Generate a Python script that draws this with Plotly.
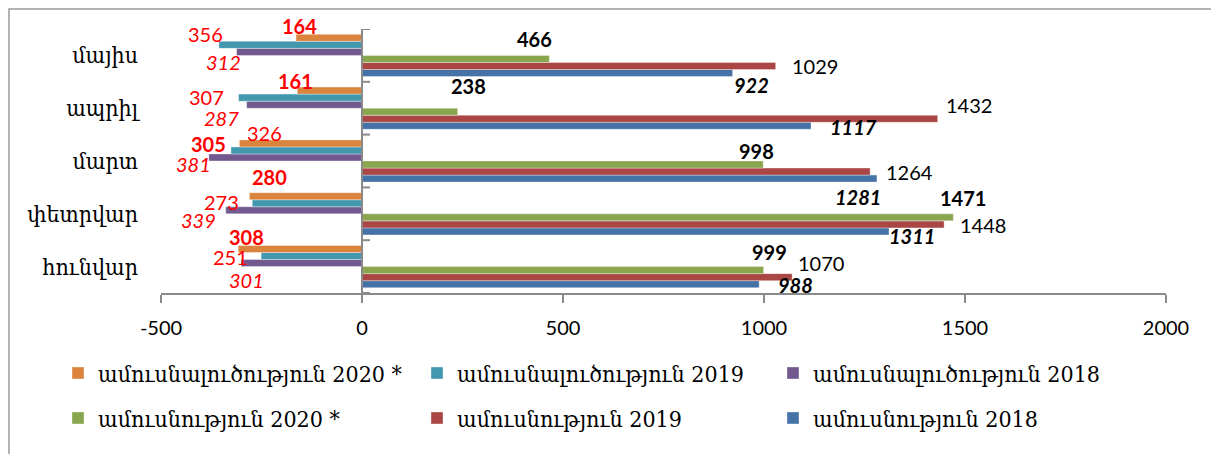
import plotly.graph_objects as go

# ---------------- data ----------------
categories = ["հունվար", "փետրվար", "մարտ", "ապրիլ", "մայիս"]

marriage_2018 = [988, 1311, 1281, 1117, 922]
marriage_2019 = [1070, 1448, 1264, 1432, 1029]
marriage_2020 = [999, 1471, 998, 238, 466]
divorce_2018 = [301, 339, 381, 287, 312]
divorce_2019 = [251, 273, 326, 307, 356]
divorce_2020 = [308, 280, 305, 161, 164]

x_ticks = [-500, 0, 500, 1000, 1500, 2000]

# ---------------- styles ----------------
NUM_FONT = "Lato, 'Open Sans', sans-serif"
ARM_FONT = "'DejaVu Serif Condensed', 'DejaVu Serif', serif"
AXIS_GRAY = "#8a8a8a"

# the page body adds an 8px margin; lay the figure out in page pixels minus that
PAGE_OFF = 8

# series in drawing order (bottom bar of each group first)
series = [
    dict(name="ամուսնություն 2018", vals=marriage_2018, sign=1, color="#4572A7",
         leg=(793, 418), fmt="<b><i>{}</i></b>", fcolor="black",
         offs=[(36, 0.5), (23, 5), (-19, 18.5), (42, 1.5), (19, 11.5)]),
    dict(name="ամուսնություն 2019", vals=marriage_2019, sign=1, color="#AA4643",
         leg=(437, 418), fmt="{}", fcolor="black",
         offs=[(29, -14.5), (39, 1), (39, 0.5), (31, -13.5), (39, 0.5)]),
    dict(name="ամուսնություն 2020 *", vals=marriage_2020, sign=1, color="#89A54E",
         leg=(78, 418), fmt="<b>{}</b>", fcolor="black",
         offs=[(6, -18.5), (10, -19), (-7, -13.5), (11, -25.5), (-15, -19.5)]),
    dict(name="ամուսնալուծություն 2018", vals=divorce_2018, sign=-1, color="#71588F",
         leg=(793, 373), fmt="<i>{}</i>", fcolor="#FF0000",
         offs=[(5, 16.5), (-27, 10), (-15, 6.5), (-25, 13), (-13, 10.5)]),
    dict(name="ամուսնալուծություն 2019", vals=divorce_2019, sign=-1, color="#4198AF",
         leg=(437, 373), fmt="{}", fcolor="#FF0000",
         offs=[(-31, 0.5), (-31, -1), (34, -17.5), (-32, -1), (-13, -10.5)]),
    dict(name="ամուսնալուծություն 2020 *", vals=divorce_2020, sign=-1, color="#DB843D",
         leg=(78, 373), fmt="<b>{}</b>", fcolor="#FF0000",
         offs=[(8, -12.5), (20, -19), (-31, 0.5), (-2, -9.5), (3, -11.5)]),
]

W, H = 1219 - 2 * PAGE_OFF, 462 - 2 * PAGE_OFF
# plot area in page pixels: x 161..1166, y 29..293
M_L = 161 - PAGE_OFF
M_R = W - (1166 - PAGE_OFF)
M_T = 29 - PAGE_OFF
M_B = H - (293 - PAGE_OFF)
plot_h = H - M_T - M_B
pw = W - M_L - M_R
band = plot_h / len(categories)
BARGAP = 0.2
group_w = band * (1 - BARGAP)
bar_w = group_w / len(series)

fig = go.Figure()
annotations = []
legends = {}
for k, s in enumerate(series):
    leg_id = "legend" if k == 0 else f"legend{k + 1}"
    xs = [s["sign"] * v for v in s["vals"]]
    fig.add_trace(go.Bar(
        y=categories, x=xs, orientation="h", name=s["name"],
        marker=dict(color=s["color"], line=dict(color="rgba(255,255,255,0.6)", width=0.6)),
        legend=leg_id, hoverinfo="x+y+name",
    ))
    lx, ly = s["leg"]
    legends[leg_id] = dict(
        orientation="h", xref="container", yref="container",
        xanchor="left", yanchor="middle",
        x=(lx - 20 - PAGE_OFF) / W, y=1 - (ly - PAGE_OFF) / H,
        font=dict(family=ARM_FONT, size=23, color="black"), bgcolor="rgba(0,0,0,0)",
        itemclick=False, itemdoubleclick=False, borderwidth=0,
    )
    # pixel offset of this bar's centre below the band centre
    bar_down = group_w / 2 - bar_w * (k + 0.5)
    for cat, xv, v, (dx, dy) in zip(categories, xs, s["vals"], s["offs"]):
        annotations.append(dict(
            x=xv, y=cat, xref="x", yref="y", text=s["fmt"].format(v),
            showarrow=False, xshift=dx, yshift=-(bar_down + dy),
            font=dict(family=NUM_FONT, size=20, color=s["fcolor"]),
            xanchor="center", yanchor="middle",
        ))

shapes = [
    # vertical axis line at x = 0
    dict(type="line", xref="x", yref="paper", x0=0, x1=0, y0=0, y1=1,
         line=dict(color=AXIS_GRAY, width=2), layer="above"),
]
for b in range(len(categories) + 1):
    shapes.append(dict(type="line", xref="x", yref="y", xsizemode="pixel", xanchor=0,
                       x0=0, x1=8, y0=b - 0.5, y1=b - 0.5,
                       line=dict(color=AXIS_GRAY, width=2)))
# outer chart border (left / top edges visible in the reference)
shapes.append(dict(type="rect", xref="paper", yref="paper",
                   x0=(1 - M_L) / pw, x1=(W + 5 - M_L) / pw,
                   y0=-(H + 5 - plot_h - M_T) / plot_h, y1=(plot_h + M_T - 1) / plot_h,
                   line=dict(color="#9a9a9a", width=1.5), fillcolor="rgba(0,0,0,0)",
                   layer="below"))

fig.update_layout(
    width=W, height=H,
    margin=dict(l=M_L, r=M_R, t=M_T, b=M_B, autoexpand=False),
    paper_bgcolor="white", plot_bgcolor="white",
    barmode="group", bargap=BARGAP, bargroupgap=0,
    xaxis=dict(range=[-500, 2000], autorange=False,
               tickvals=x_ticks, ticktext=[str(t) for t in x_ticks],
               showgrid=False, zeroline=False, showline=True, linecolor=AXIS_GRAY, linewidth=2,
               ticks="outside", ticklen=8, tickcolor=AXIS_GRAY, tickwidth=2,
               tickfont=dict(family=NUM_FONT, size=20, color="black"),
               ticklabelstandoff=8, fixedrange=True, automargin=False),
    yaxis=dict(categoryorder="array", categoryarray=categories,
               range=[-0.5, len(categories) - 0.5], autorange=False,
               showgrid=False, zeroline=False, showline=False, ticks="",
               tickfont=dict(family=ARM_FONT, size=23, color="black"),
               ticklabelstandoff=22, fixedrange=True, automargin=False),
    annotations=annotations,
    shapes=shapes,
    showlegend=True,
    **legends,
)

fig.write_html("out.html")
